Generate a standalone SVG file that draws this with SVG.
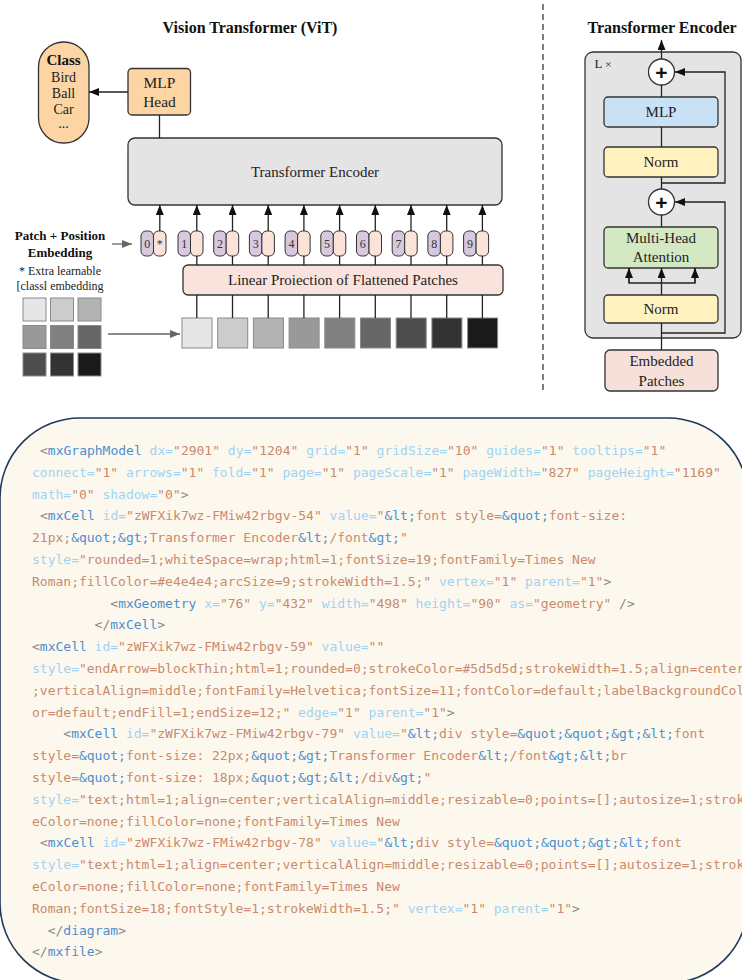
<svg xmlns="http://www.w3.org/2000/svg" width="742" height="980" viewBox="0 0 742 980">
  <defs>
    <marker id="arr" viewBox="0 0 10 8" refX="10" refY="4" markerWidth="10" markerHeight="8" markerUnits="userSpaceOnUse" orient="auto">
      <path d="M0,0 L10,4 L0,8 z" fill="#111"/>
    </marker>
    <marker id="arrg" viewBox="0 0 10 8" refX="10" refY="4" markerWidth="11" markerHeight="8" markerUnits="userSpaceOnUse" orient="auto">
      <path d="M0,0 L10,4 L0,8 z" fill="#666"/>
    </marker>
    <style>
      .box { stroke: #333; stroke-width: 1.3; }
      .lbl { font-family: "Liberation Serif", "Times New Roman", serif; fill: #222; text-anchor: middle; }
      .bold { font-weight: bold; fill: #111; }
      .conn line, .conn path, .conn polyline { stroke: #222; stroke-width: 1.3; fill: none; }
      .conn .g { stroke: #666; }
      .tok { stroke: #333; stroke-width: 1; }
      .tp { fill: #d8c8de; }
      .tk { fill: #fbe3da; }
      .tn { font-family: "Liberation Serif", "Times New Roman", serif; font-size: 12px; fill: #333; text-anchor: middle; }
      .patch { stroke: #8a8a8a; stroke-width: 1; }
      .code { font-family: "DejaVu Sans Mono", "Liberation Mono", monospace; font-size: 13px; white-space: pre; }
      .p { fill: #8a8a8a; }
      .t { fill: #4a8fd0; }
      .a { fill: #9fd3f3; }
      .v { fill: #c98a6d; }
      .e { fill: #4a8fd0; }
    </style>
  </defs>

  <rect width="742" height="980" fill="#ffffff"/>

  <!-- Vision Transformer overview -->
  <text class="lbl bold" x="250" y="33" font-size="16">Vision Transformer (ViT)</text>

  <g id="class-out">
    <rect class="box" x="38.5" y="42" width="50.5" height="101" rx="25" fill="#fdd5a5"/>
    <text class="lbl bold" x="63.5" y="65" font-size="15">Class</text>
    <text class="lbl" x="63.5" y="82" font-size="14">Bird</text>
    <text class="lbl" x="63.5" y="98" font-size="14">Ball</text>
    <text class="lbl" x="63.5" y="114" font-size="14">Car</text>
    <text class="lbl" x="63.5" y="128" font-size="14">...</text>
  </g>

  <g id="mlp-head">
    <rect class="box" x="128" y="68.5" width="62.5" height="46.5" rx="4" fill="#fdd5a5"/>
    <text class="lbl" x="159.5" y="88" font-size="15.5">MLP</text>
    <text class="lbl" x="159.5" y="107" font-size="15.5">Head</text>
  </g>

  <g id="encoder">
    <rect class="box" x="128" y="138" width="374" height="67" rx="7" fill="#e4e4e4"/>
    <text class="lbl" x="315" y="177" font-size="15">Transformer Encoder</text>
  </g>

  <g id="embedding-label">
    <text class="lbl bold" x="60" y="240" font-size="13">Patch + Position</text>
    <text class="lbl bold" x="60" y="257" font-size="13">Embedding</text>
    <text class="lbl" x="60" y="275" font-size="12">* Extra learnable</text>
    <text class="lbl" x="60" y="290" font-size="12">[classl embedding</text>
  </g>

  <g id="tokens">
    <rect class="tok tp" x="141" y="231" width="12.5" height="25" rx="5"/>
    <rect class="tok tk" x="153.5" y="231" width="12.5" height="25" rx="5"/>
    <text class="tn" x="147.3" y="248">0</text><text class="tn" x="159.8" y="248">*</text>
    <rect class="tok tp" x="178" y="231" width="12.5" height="25" rx="5"/>
    <rect class="tok tk" x="190.5" y="231" width="12.5" height="25" rx="5"/>
    <text class="tn" x="184.3" y="248">1</text>
    <rect class="tok tp" x="213.7" y="231" width="12.5" height="25" rx="5"/>
    <rect class="tok tk" x="226.2" y="231" width="12.5" height="25" rx="5"/>
    <text class="tn" x="220" y="248">2</text>
    <rect class="tok tp" x="249.4" y="231" width="12.5" height="25" rx="5"/>
    <rect class="tok tk" x="261.9" y="231" width="12.5" height="25" rx="5"/>
    <text class="tn" x="255.7" y="248">3</text>
    <rect class="tok tp" x="285.1" y="231" width="12.5" height="25" rx="5"/>
    <rect class="tok tk" x="297.6" y="231" width="12.5" height="25" rx="5"/>
    <text class="tn" x="291.4" y="248">4</text>
    <rect class="tok tp" x="320.8" y="231" width="12.5" height="25" rx="5"/>
    <rect class="tok tk" x="333.3" y="231" width="12.5" height="25" rx="5"/>
    <text class="tn" x="327.1" y="248">5</text>
    <rect class="tok tp" x="356.5" y="231" width="12.5" height="25" rx="5"/>
    <rect class="tok tk" x="369" y="231" width="12.5" height="25" rx="5"/>
    <text class="tn" x="362.8" y="248">6</text>
    <rect class="tok tp" x="392.2" y="231" width="12.5" height="25" rx="5"/>
    <rect class="tok tk" x="404.7" y="231" width="12.5" height="25" rx="5"/>
    <text class="tn" x="398.5" y="248">7</text>
    <rect class="tok tp" x="427.9" y="231" width="12.5" height="25" rx="5"/>
    <rect class="tok tk" x="440.4" y="231" width="12.5" height="25" rx="5"/>
    <text class="tn" x="434.2" y="248">8</text>
    <rect class="tok tp" x="463.6" y="231" width="12.5" height="25" rx="5"/>
    <rect class="tok tk" x="476.1" y="231" width="12.5" height="25" rx="5"/>
    <text class="tn" x="469.9" y="248">9</text>
  </g>

  <g id="linear-projection">
    <rect class="box" x="183" y="265" width="320" height="30" rx="5" fill="#fae3dc"/>
    <text class="lbl" x="343" y="285" font-size="15">Linear Proiection of Flattened Patches</text>
  </g>

  <g id="image-grid">
    <rect class="patch" x="23" y="298" width="23" height="23" fill="#e6e6e6"/>
    <rect class="patch" x="50.5" y="298" width="23" height="23" fill="#cccccc"/>
    <rect class="patch" x="78" y="298" width="23" height="23" fill="#b3b3b3"/>
    <rect class="patch" x="23" y="325.5" width="23" height="23" fill="#999999"/>
    <rect class="patch" x="50.5" y="325.5" width="23" height="23" fill="#808080"/>
    <rect class="patch" x="78" y="325.5" width="23" height="23" fill="#666666"/>
    <rect class="patch" x="23" y="353" width="23" height="23" fill="#4d4d4d"/>
    <rect class="patch" x="50.5" y="353" width="23" height="23" fill="#333333"/>
    <rect class="patch" x="78" y="353" width="23" height="23" fill="#1a1a1a"/>
  </g>

  <g id="patch-row">
    <rect class="patch" x="182" y="318" width="30" height="30" fill="#e6e6e6"/>
    <rect class="patch" x="217.7" y="318" width="30" height="30" fill="#cccccc"/>
    <rect class="patch" x="253.4" y="318" width="30" height="30" fill="#b3b3b3"/>
    <rect class="patch" x="289.1" y="318" width="30" height="30" fill="#999999"/>
    <rect class="patch" x="324.8" y="318" width="30" height="30" fill="#808080"/>
    <rect class="patch" x="360.5" y="318" width="30" height="30" fill="#666666"/>
    <rect class="patch" x="396.2" y="318" width="30" height="30" fill="#4d4d4d"/>
    <rect class="patch" x="431.9" y="318" width="30" height="30" fill="#333333"/>
    <rect class="patch" x="467.6" y="318" width="30" height="30" fill="#1a1a1a"/>
  </g>

  <!-- Transformer Encoder block -->
  <text class="lbl bold" x="662" y="33" font-size="16">Transformer Encoder</text>

  <g id="encoder-block">
    <rect class="box" x="585" y="52" width="156" height="286" rx="8" fill="#e4e4e4"/>
    <text class="lbl" x="603" y="68" font-size="13">L <tspan font-size="11">×</tspan></text>
  </g>

  <g id="add-top">
    <circle class="box" cx="661.5" cy="72" r="13" fill="#ffffff"/>
    <text x="661.5" y="79.5" text-anchor="middle" font-family="Liberation Sans, Arial, sans-serif" font-weight="bold" font-size="21" fill="#111">+</text>
  </g>
  <g id="mlp">
    <rect class="box" x="604" y="97" width="114" height="30" rx="4" fill="#c8e1f5"/>
    <text class="lbl" x="661" y="117" font-size="15">MLP</text>
  </g>
  <g id="norm-top">
    <rect class="box" x="604" y="147" width="114" height="30" rx="4" fill="#fff2bf"/>
    <text class="lbl" x="661" y="167" font-size="15">Norm</text>
  </g>
  <g id="add-bottom">
    <circle class="box" cx="661.5" cy="202" r="13" fill="#ffffff"/>
    <text x="661.5" y="209.5" text-anchor="middle" font-family="Liberation Sans, Arial, sans-serif" font-weight="bold" font-size="21" fill="#111">+</text>
  </g>
  <g id="attention">
    <rect class="box" x="604" y="227" width="114" height="41" rx="4" fill="#d5e8c4"/>
    <text class="lbl" x="661" y="243" font-size="15">Multi-Head</text>
    <text class="lbl" x="661" y="262" font-size="15">Attention</text>
  </g>
  <g id="norm-bottom">
    <rect class="box" x="604" y="295" width="114" height="28" rx="4" fill="#fff2bf"/>
    <text class="lbl" x="661" y="314" font-size="15">Norm</text>
  </g>
  <g id="embedded-patches">
    <rect class="box" x="605" y="350" width="113" height="41" rx="5" fill="#f8e0da"/>
    <text class="lbl" x="661.5" y="366" font-size="15">Embedded</text>
    <text class="lbl" x="661.5" y="386" font-size="15">Patches</text>
  </g>

  <g id="connectors" class="conn">
    <!-- overview -->
    <line x1="128" y1="92" x2="89" y2="92" marker-end="url(#arr)"/>
    <line x1="159.5" y1="115" x2="159.5" y2="138"/>
    <line class="g" x1="112" y1="244" x2="132" y2="244" marker-end="url(#arrg)"/>
    <line class="g" x1="108" y1="334" x2="180" y2="334" marker-end="url(#arrg)"/>
    <line x1="159.8" y1="231" x2="159.8" y2="205" marker-end="url(#arr)"/>
    <line x1="196.8" y1="231" x2="196.8" y2="205" marker-end="url(#arr)"/>
    <line x1="232.5" y1="231" x2="232.5" y2="205" marker-end="url(#arr)"/>
    <line x1="268.2" y1="231" x2="268.2" y2="205" marker-end="url(#arr)"/>
    <line x1="303.9" y1="231" x2="303.9" y2="205" marker-end="url(#arr)"/>
    <line x1="339.6" y1="231" x2="339.6" y2="205" marker-end="url(#arr)"/>
    <line x1="375.3" y1="231" x2="375.3" y2="205" marker-end="url(#arr)"/>
    <line x1="411" y1="231" x2="411" y2="205" marker-end="url(#arr)"/>
    <line x1="446.7" y1="231" x2="446.7" y2="205" marker-end="url(#arr)"/>
    <line x1="482.4" y1="231" x2="482.4" y2="205" marker-end="url(#arr)"/>
    <line x1="196.8" y1="265" x2="196.8" y2="256"/>
    <line x1="232.5" y1="265" x2="232.5" y2="256"/>
    <line x1="268.2" y1="265" x2="268.2" y2="256"/>
    <line x1="303.9" y1="265" x2="303.9" y2="256"/>
    <line x1="339.6" y1="265" x2="339.6" y2="256"/>
    <line x1="375.3" y1="265" x2="375.3" y2="256"/>
    <line x1="411" y1="265" x2="411" y2="256"/>
    <line x1="446.7" y1="265" x2="446.7" y2="256"/>
    <line x1="482.4" y1="265" x2="482.4" y2="256"/>
    <line x1="196.8" y1="318" x2="196.8" y2="295"/>
    <line x1="232.5" y1="318" x2="232.5" y2="295"/>
    <line x1="268.2" y1="318" x2="268.2" y2="295"/>
    <line x1="303.9" y1="318" x2="303.9" y2="295"/>
    <line x1="339.6" y1="318" x2="339.6" y2="295"/>
    <line x1="375.3" y1="318" x2="375.3" y2="295"/>
    <line x1="411" y1="318" x2="411" y2="295"/>
    <line x1="446.7" y1="318" x2="446.7" y2="295"/>
    <line x1="482.4" y1="318" x2="482.4" y2="295"/>
    <!-- divider -->
    <line x1="543" y1="4" x2="543" y2="394" stroke-dasharray="6 4" style="stroke:#555;stroke-width:1.5"/>
    <!-- encoder block -->
    <line x1="661.5" y1="59" x2="661.5" y2="40" marker-end="url(#arr)"/>
    <line x1="661.5" y1="97" x2="661.5" y2="85"/>
    <line x1="661.5" y1="147" x2="661.5" y2="127"/>
    <line x1="661.5" y1="189" x2="661.5" y2="177"/>
    <line x1="661.5" y1="227" x2="661.5" y2="215"/>
    <line x1="661.5" y1="295" x2="661.5" y2="283"/>
    <line x1="661.5" y1="350" x2="661.5" y2="323"/>
    <polyline points="629,268 629,283 695,283 695,268"/>
    <line x1="629" y1="283" x2="629" y2="268" marker-end="url(#arr)"/>
    <line x1="661.5" y1="283" x2="661.5" y2="268" marker-end="url(#arr)"/>
    <line x1="695" y1="283" x2="695" y2="268" marker-end="url(#arr)"/>
    <polyline points="661.5,183 725,183 725,72 675,72" marker-end="url(#arr)"/>
    <polyline points="661.5,333 725,333 725,202 675,202" marker-end="url(#arr)"/>
  </g>

  <!-- XML source listing -->
  <g id="code-panel">
    <rect x="0" y="418" width="748" height="565" rx="80" fill="#fdf8ee" stroke="#1f3a5c" stroke-width="1.6"/>
    <g class="code">
      <text x="40" y="455"><tspan class="p">&lt;</tspan><tspan class="t">mxGraphModel</tspan><tspan class="a"> dx=</tspan><tspan class="v">"2901"</tspan><tspan class="a"> dy=</tspan><tspan class="v">"1204"</tspan><tspan class="a"> grid=</tspan><tspan class="v">"1"</tspan><tspan class="a"> gridSize=</tspan><tspan class="v">"10"</tspan><tspan class="a"> guides=</tspan><tspan class="v">"1"</tspan><tspan class="a"> tooltips=</tspan><tspan class="v">"1"</tspan></text>
      <text x="32" y="476.8"><tspan class="a">connect=</tspan><tspan class="v">"1"</tspan><tspan class="a"> arrows=</tspan><tspan class="v">"1"</tspan><tspan class="a"> fold=</tspan><tspan class="v">"1"</tspan><tspan class="a"> page=</tspan><tspan class="v">"1"</tspan><tspan class="a"> pageScale=</tspan><tspan class="v">"1"</tspan><tspan class="a"> pageWidth=</tspan><tspan class="v">"827"</tspan><tspan class="a"> pageHeight=</tspan><tspan class="v">"1169"</tspan></text>
      <text x="32" y="498.6"><tspan class="a">math=</tspan><tspan class="v">"0"</tspan><tspan class="a"> shadow=</tspan><tspan class="v">"0"</tspan><tspan class="p">&gt;</tspan></text>
      <text x="40" y="520.4"><tspan class="p">&lt;</tspan><tspan class="t">mxCell</tspan><tspan class="a"> id=</tspan><tspan class="v">"zWFXik7wz-FMiw42rbgv-54"</tspan><tspan class="a"> value=</tspan><tspan class="v">"</tspan><tspan class="e">&amp;lt;</tspan><tspan class="v">font style=</tspan><tspan class="e">&amp;quot;</tspan><tspan class="v">font-size:</tspan></text>
      <text x="32" y="542.2"><tspan class="v">21px;</tspan><tspan class="e">&amp;quot;&amp;gt;</tspan><tspan class="v">Transformer Encoder</tspan><tspan class="e">&amp;lt;</tspan><tspan class="v">/font</tspan><tspan class="e">&amp;gt;</tspan><tspan class="v">"</tspan></text>
      <text x="32" y="564"><tspan class="a">style=</tspan><tspan class="v">"rounded=1;whiteSpace=wrap;html=1;fontSize=19;fontFamily=Times New</tspan></text>
      <text x="32" y="585.8"><tspan class="v">Roman;fillColor=#e4e4e4;arcSize=9;strokeWidth=1.5;"</tspan><tspan class="a"> vertex=</tspan><tspan class="v">"1"</tspan><tspan class="a"> parent=</tspan><tspan class="v">"1"</tspan><tspan class="p">&gt;</tspan></text>
      <text x="110.3" y="607.6"><tspan class="p">&lt;</tspan><tspan class="t">mxGeometry</tspan><tspan class="a"> x=</tspan><tspan class="v">"76"</tspan><tspan class="a"> y=</tspan><tspan class="v">"432"</tspan><tspan class="a"> width=</tspan><tspan class="v">"498"</tspan><tspan class="a"> height=</tspan><tspan class="v">"90"</tspan><tspan class="a"> as=</tspan><tspan class="v">"geometry"</tspan><tspan class="p"> /&gt;</tspan></text>
      <text x="94.6" y="629.4"><tspan class="p">&lt;/</tspan><tspan class="t">mxCell</tspan><tspan class="p">&gt;</tspan></text>
      <text x="32" y="651.2"><tspan class="p">&lt;</tspan><tspan class="t">mxCell</tspan><tspan class="a"> id=</tspan><tspan class="v">"zWFXik7wz-FMiw42rbgv-59"</tspan><tspan class="a"> value=</tspan><tspan class="v">""</tspan></text>
      <text x="32" y="673"><tspan class="a">style=</tspan><tspan class="v">"endArrow=blockThin;html=1;rounded=0;strokeColor=#5d5d5d;strokeWidth=1.5;align=center</tspan></text>
      <text x="32" y="694.8"><tspan class="v">;verticalAlign=middle;fontFamily=Helvetica;fontSize=11;fontColor=default;labelBackgroundCol</tspan></text>
      <text x="32" y="716.6"><tspan class="v">or=default;endFill=1;endSize=12;"</tspan><tspan class="a"> edge=</tspan><tspan class="v">"1"</tspan><tspan class="a"> parent=</tspan><tspan class="v">"1"</tspan><tspan class="p">&gt;</tspan></text>
      <text x="63.3" y="738.4"><tspan class="p">&lt;</tspan><tspan class="t">mxCell</tspan><tspan class="a"> id=</tspan><tspan class="v">"zWFXik7wz-FMiw42rbgv-79"</tspan><tspan class="a"> value=</tspan><tspan class="v">"</tspan><tspan class="e">&amp;lt;</tspan><tspan class="v">div style=</tspan><tspan class="e">&amp;quot;&amp;quot;&amp;gt;&amp;lt;</tspan><tspan class="v">font</tspan></text>
      <text x="32" y="760.2"><tspan class="v">style=</tspan><tspan class="e">&amp;quot;</tspan><tspan class="v">font-size: 22px;</tspan><tspan class="e">&amp;quot;&amp;gt;</tspan><tspan class="v">Transformer Encoder</tspan><tspan class="e">&amp;lt;</tspan><tspan class="v">/font</tspan><tspan class="e">&amp;gt;&amp;lt;</tspan><tspan class="v">br</tspan></text>
      <text x="32" y="782"><tspan class="v">style=</tspan><tspan class="e">&amp;quot;</tspan><tspan class="v">font-size: 18px;</tspan><tspan class="e">&amp;quot;&amp;gt;&amp;lt;</tspan><tspan class="v">/div</tspan><tspan class="e">&amp;gt;</tspan><tspan class="v">"</tspan></text>
      <text x="32" y="803.8"><tspan class="a">style=</tspan><tspan class="v">"text;html=1;align=center;verticalAlign=middle;resizable=0;points=[];autosize=1;strok</tspan></text>
      <text x="32" y="825.6"><tspan class="v">eColor=none;fillColor=none;fontFamily=Times New</tspan></text>
      <text x="40" y="847.4"><tspan class="p">&lt;</tspan><tspan class="t">mxCell</tspan><tspan class="a"> id=</tspan><tspan class="v">"zWFXik7wz-FMiw42rbgv-78"</tspan><tspan class="a"> value=</tspan><tspan class="v">"</tspan><tspan class="e">&amp;lt;</tspan><tspan class="v">div style=</tspan><tspan class="e">&amp;quot;&amp;quot;&amp;gt;&amp;lt;</tspan><tspan class="v">font</tspan></text>
      <text x="32" y="869.2"><tspan class="a">style=</tspan><tspan class="v">"text;html=1;align=center;verticalAlign=middle;resizable=0;points=[];autosize=1;strok</tspan></text>
      <text x="32" y="891"><tspan class="v">eColor=none;fillColor=none;fontFamily=Times New</tspan></text>
      <text x="32" y="912.8"><tspan class="v">Roman;fontSize=18;fontStyle=1;strokeWidth=1.5;"</tspan><tspan class="a"> vertex=</tspan><tspan class="v">"1"</tspan><tspan class="a"> parent=</tspan><tspan class="v">"1"</tspan><tspan class="p">&gt;</tspan></text>
      <text x="47.7" y="934.6"><tspan class="p">&lt;/</tspan><tspan class="t">diagram</tspan><tspan class="p">&gt;</tspan></text>
      <text x="32" y="956.4"><tspan class="p">&lt;/</tspan><tspan class="t">mxfile</tspan><tspan class="p">&gt;</tspan></text>
    </g>
  </g>
</svg>
